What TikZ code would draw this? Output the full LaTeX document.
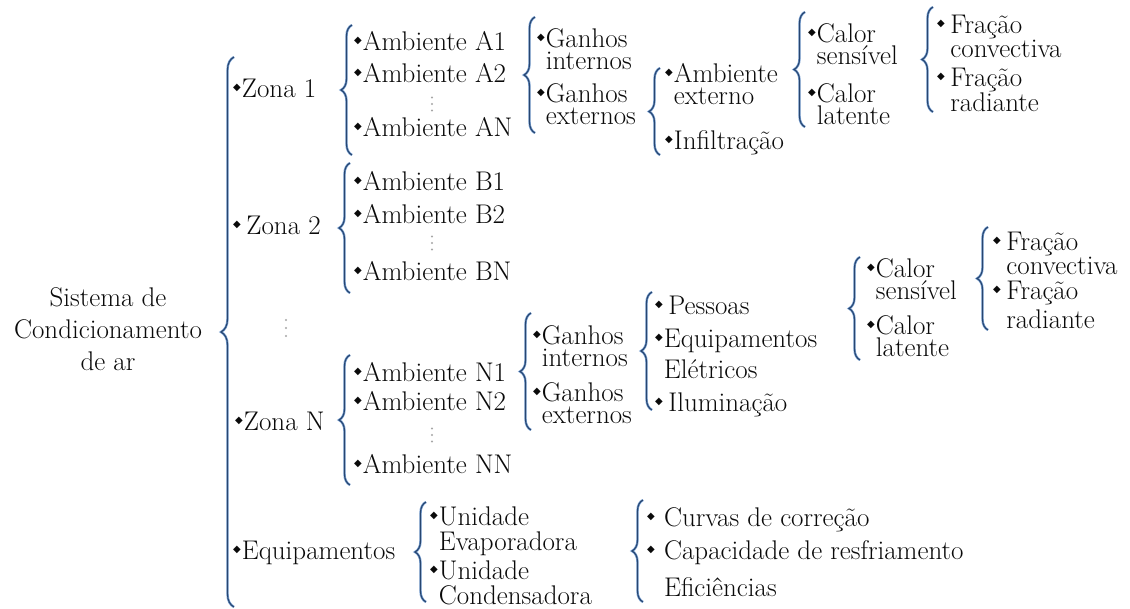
\documentclass[tikz,border=0pt]{standalone}
\usepackage{fontspec}
\newfontfamily\symfont{DejaVu Sans}
\usetikzlibrary{decorations.pathreplacing, positioning}
\definecolor{chaveescura}{RGB}{40,70,112}
\definecolor{chaveclara}{RGB}{120,160,210}
\definecolor{texto}{RGB}{10,10,10}
\newcommand{\bul}{\raisebox{7pt}{\symfont\fontsize{10}{10}\selectfont ◆}\kern1pt}
\tikzstyle{item} = [anchor=west, inner sep=0pt, align=left, text=texto, font=\fontsize{27}{22}\selectfont]
\tikzstyle{chave} = [decoration={brace, amplitude=11pt}, preaction={decorate, draw=chaveclara, line width=2.4pt}, postaction={decorate, draw=chaveescura, line width=1.1pt}]

\begin{document}
\begin{tikzpicture}[x=1pt, y=-1pt]
    \path[use as bounding box, fill=white] (0,0) rectangle (1130,608);

    % Raiz
    \node[align=center, inner sep=0pt, text=texto, font=\fontsize{27}{32}\selectfont] (raiz) at (108,329) {Sistema de\\Condicionamento\\de ar};
    \path[chave, decoration={brace, amplitude=13pt}] (234,607) -- (234,57);

    % Zonas e equipamentos
    \node[item] (z1) at (233,88) {\bul Zona 1};
    \node[item] (z2) at (233,225) {\bul\,Zona 2};
    \node[item] (zN) at (235,421) {\bul Zona N};
    \node[item] (eq) at (233,553) {\bul Equipamentos};

    % Zona 1
    \path[chave] (352,155) -- (352,25);
    \node[item] (a1) at (354,41) {\bul Ambiente A1};
    \node[item] (a2) at (354,73) {\bul Ambiente A2};
    \node[item] (aN) at (354,127) {\bul Ambiente AN};

    \path[chave] (535,133) -- (535,17);
    \node[item] (gi1) at (537,49.5) {\bul Ganhos\\\hphantom{\bul}internos};
    \node[item] (ge1) at (537,104) {\bul Ganhos\\\hphantom{\bul}externos};

    \path[chave] (660,155) -- (660,68);
    \node[item] (amb1) at (665,84) {\bul Ambiente\\\hphantom{\bul}externo};
    \node[item] (inf1) at (665,143) {\bul Infiltração};

    \path[chave] (805,127) -- (805,12);
    \node[item] (cs1) at (808,44) {\bul Calor\\\hphantom{\bul}sensível};
    \node[item] (cl1) at (808,104) {\bul Calor\\\hphantom{\bul}latente};

    \path[chave] (933,112) -- (933,7);
    \node[item] (fc1) at (937,36.5) {\bul\,Fração\\\hphantom{\bul\,}convectiva};
    \node[item] (fr1) at (937,90) {\bul\,Fração\\\hphantom{\bul\,}radiante};

    % Zona 2
    \path[chave] (350,293) -- (350,163);
    \node[item] (b1) at (354,181) {\bul Ambiente B1};
    \node[item] (b2) at (354,214) {\bul Ambiente B2};
    \node[item] (bN) at (354,271) {\bul Ambiente BN};

    % Zona N
    \path[chave] (350,485) -- (350,355);
    \node[item] (n1) at (354,372) {\bul Ambiente N1};
    \node[item] (n2) at (354,401) {\bul Ambiente N2};
    \node[item] (nN) at (354,464) {\bul Ambiente NN};

    \path[chave] (531,430) -- (531,313);
    \node[item] (gi2) at (533,346) {\bul Ganhos\\\hphantom{\bul}internos};
    \node[item] (ge2) at (533,403.5) {\bul Ganhos\\\hphantom{\bul}externos};

    \path[chave] (652,410) -- (652,292);
    \node[item] (pe) at (655,305) {\bul\,Pessoas};
    \node[item] (ee) at (655,353.5) {\bul Equipamentos\\[6pt]\hphantom{\bul}Elétricos};
    \node[item] (il) at (655,404.5) {\bul\,Iluminação};

    \path[chave] (860,360) -- (860,257);
    \node[item] (cs2) at (867,279) {\bul Calor\\\hphantom{\bul}sensível};
    \node[item] (cl2) at (867,336) {\bul Calor\\\hphantom{\bul}latente};

    \path[chave] (988,330) -- (988,227);
    \node[item] (fc2) at (993,253.5) {\bul\,Fração\\\hphantom{\bul\,}convectiva};
    \node[item] (fr2) at (993,305) {\bul\,Fração\\[4pt]\hphantom{\bul\,}radiante};

    % Equipamentos
    \path[chave] (426,602) -- (426,502);
    \node[item] (u1) at (430,531) {\bul Unidade\\[3pt]\hphantom{\bul}Evaporadora};
    \node[item] (u2) at (430,582.5) {\bul Unidade\\[3pt]\hphantom{\bul}Condensadora};

    \path[chave] (643,602) -- (643,500);
    \node[item] (c1) at (647,520) {\bul\ Curvas de correção};
    \node[item] (c2) at (647,553) {\bul\ Capacidade de resfriamento};
    \node[item] (c3) at (647,587.5) {\hphantom{\bul\ }Eficiências};

    % Reticencias verticais
    \foreach \x/\y in {432/104, 432/243, 432/435}
        \foreach \d in {-6.5,0,6.5}
            \fill[gray!70] (\x,\y+\d) circle (1.1);
    \foreach \d in {-8,0,8}
        \fill[gray!70] (286,328+\d) circle (1.1);
\end{tikzpicture}
\end{document}
